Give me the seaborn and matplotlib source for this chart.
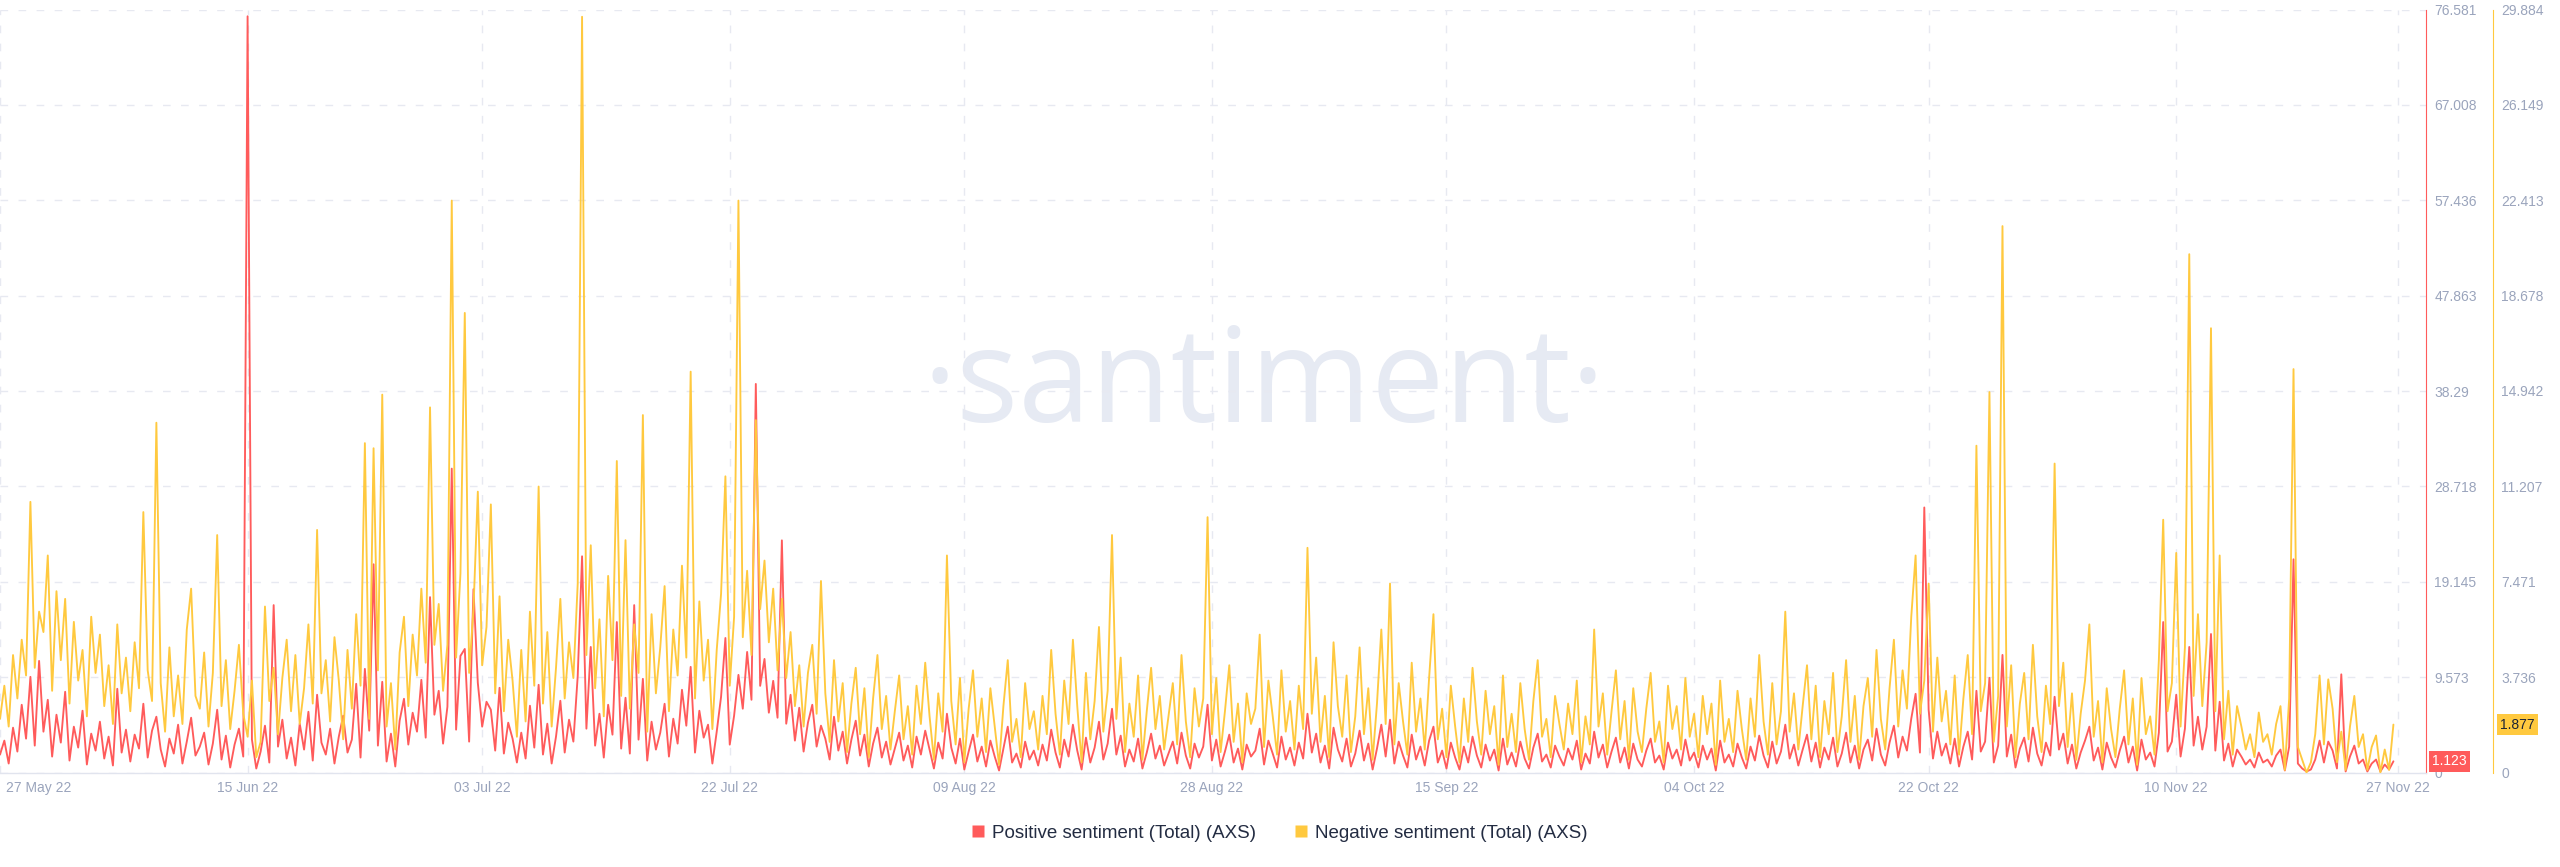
import numpy as np
import pandas as pd
import seaborn as sns
import matplotlib.pyplot as plt
import matplotlib.transforms as mtransforms
from matplotlib.lines import Line2D

# 8-hourly sentiment counts for AXS, starting 27 May 2022
start = '2022-05-27 00:00'

positive = [
    1.8, 3.2, 0.9, 4.5, 2.1, 6.8, 3.4, 9.6, 2.7, 11.2, 4.1, 7.3, 1.6, 5.8, 3.0, 8.1, 1.2, 4.6, 2.5, 6.2, 0.8, 3.9, 2.2, 5.1, 1.4, 3.6, 0.7, 8.4, 2.0, 4.3,
    1.1, 3.8, 2.4, 6.9, 1.5, 4.2, 5.6, 2.3, 0.6, 3.4, 1.9, 4.8, 0.9, 3.1, 5.5, 1.7, 2.6, 4.0, 0.8, 2.9, 6.3, 1.3, 3.7, 0.5, 2.8, 4.4, 1.6, 75.9, 3.3, 0.4,
    2.1, 4.7, 1.0, 16.8, 2.6, 5.3, 1.4, 3.5, 0.7, 4.9, 2.3, 6.1, 1.2, 7.8, 3.0, 1.8, 4.4, 0.9, 3.6, 5.7, 2.0, 3.3, 8.9, 1.5, 10.4, 4.2, 20.9, 2.7, 9.1, 1.1,
    3.9, 0.6, 5.2, 7.4, 2.8, 6.0, 4.1, 9.3, 3.5, 17.6, 5.8, 8.2, 2.9, 6.6, 30.5, 4.3, 11.7, 12.4, 3.1, 18.4, 9.0, 4.6, 7.1, 6.3, 2.2, 8.5, 1.9, 5.0, 3.4, 1.0,
    4.0, 1.4, 6.7, 2.5, 8.8, 1.8, 4.9, 0.9, 3.6, 7.2, 2.0, 5.3, 3.1, 9.7, 21.7, 4.4, 12.6, 2.7, 5.9, 1.5, 6.8, 3.8, 15.1, 2.4, 7.5, 1.9, 16.8, 3.3, 9.4, 1.2,
    5.1, 2.3, 4.0, 6.9, 1.6, 5.4, 2.9, 8.3, 4.7, 10.6, 2.0, 6.2, 3.5, 4.8, 0.9, 4.1, 7.6, 13.5, 2.8, 5.7, 9.8, 6.4, 12.1, 7.3, 39.0, 8.7, 11.4, 6.0, 9.2, 5.5,
    23.3, 4.9, 7.8, 3.2, 6.5, 2.1, 5.0, 6.8, 2.6, 4.7, 3.4, 1.3, 5.6, 2.2, 4.1, 0.9, 3.3, 5.2, 1.7, 3.8, 0.6, 2.9, 4.5, 1.5, 3.1, 0.8, 2.4, 4.0, 1.2, 2.7,
    0.5, 3.6, 1.8, 4.2, 2.3, 0.4, 3.0, 1.4, 5.9, 2.5, 0.9, 3.4, 0.3, 2.1, 3.8, 1.1, 2.6, 0.6, 3.2, 1.6, 0.2, 2.4, 4.6, 1.0, 1.9, 0.5, 3.1, 1.3, 2.2, 0.7,
    2.8, 1.2, 4.3, 2.0, 0.5, 3.3, 1.6, 4.8, 2.2, 0.3, 3.5, 1.0, 2.5, 5.1, 1.3, 2.9, 6.4, 1.8, 3.7, 0.6, 2.3, 1.1, 3.4, 0.4, 2.0, 3.9, 1.4, 2.7, 0.7, 1.9,
    3.1, 0.9, 4.0, 1.7, 0.4, 2.9, 1.5, 2.6, 6.8, 1.2, 3.3, 0.6, 2.1, 3.8, 1.0, 2.4, 0.3, 2.8, 1.6, 2.2, 4.4, 0.8, 3.2, 1.9, 0.5, 3.6, 1.3, 2.5, 0.7, 3.0,
    1.4, 5.9, 2.0, 3.9, 1.0, 2.7, 0.4, 4.5, 2.3, 1.1, 3.4, 0.6, 1.9, 4.2, 1.2, 2.9, 0.3, 2.4, 4.8, 1.6, 5.3, 0.9, 3.1, 1.7, 0.5, 3.8, 1.3, 2.6, 0.7, 3.2,
    4.6, 1.0, 2.2, 0.4, 3.0, 1.5, 0.3, 2.6, 1.0, 3.6, 1.7, 0.5, 2.8, 1.2, 2.3, 0.2, 3.4, 0.8, 2.0, 0.6, 3.1, 1.4, 0.4, 2.5, 3.9, 1.1, 1.8, 0.5, 2.7, 1.6,
    0.7, 2.4, 1.3, 3.2, 0.3, 1.9, 0.9, 4.1, 1.5, 2.8, 0.5, 2.1, 3.5, 1.0, 2.5, 0.4, 2.9, 1.3, 0.6, 2.2, 3.4, 1.0, 1.7, 0.3, 3.0, 1.4, 2.3, 0.7, 3.3, 1.2,
    2.0, 0.5, 2.7, 1.3, 2.4, 0.2, 3.2, 1.0, 1.8, 0.6, 2.9, 1.5, 0.4, 2.6, 1.2, 3.7, 1.7, 0.5, 3.1, 0.9, 2.1, 4.8, 1.4, 2.8, 0.7, 2.3, 3.8, 1.1, 3.0, 0.5,
    2.5, 1.3, 3.5, 0.6, 1.9, 4.0, 1.0, 2.7, 0.4, 2.3, 3.3, 1.2, 4.4, 1.8, 0.7, 3.0, 4.7, 1.5, 3.6, 2.2, 5.4, 7.9, 2.0, 26.6, 6.3, 1.4, 4.1, 1.7, 2.9, 0.9,
    3.4, 0.6, 2.6, 4.1, 1.3, 8.2, 2.1, 3.1, 9.5, 1.0, 2.7, 11.8, 1.6, 3.8, 0.5, 2.4, 3.5, 1.1, 4.5, 1.9, 0.7, 3.0, 1.7, 7.6, 2.3, 3.9, 0.9, 2.8, 0.4, 2.0,
    3.2, 4.6, 1.2, 2.5, 0.3, 3.0, 1.5, 0.5, 2.2, 3.6, 1.0, 2.6, 0.2, 3.3, 1.3, 2.0, 0.6, 4.0, 15.1, 2.1, 3.1, 7.8, 1.6, 4.4, 12.6, 2.7, 5.6, 2.3, 4.6, 13.9,
    2.2, 7.1, 1.2, 2.9, 0.6, 2.3, 1.6, 0.8, 1.3, 0.5, 2.0, 1.0, 1.3, 0.6, 1.7, 2.3, 0.2, 2.6, 21.4, 0.9, 0.4, 0.1, 0.3, 1.3, 3.2, 1.0, 3.1, 2.2, 0.4, 9.85,
    0.1, 1.6, 2.7, 0.9, 1.3, 0.1, 0.9, 1.3, 0.1, 0.8, 0.3, 1.123,
]

negative = [
    2.1, 3.4, 1.8, 4.6, 2.9, 5.2, 3.8, 10.6, 4.1, 6.3, 5.5, 8.5, 3.2, 7.1, 4.4, 6.8, 2.7, 5.9, 3.6, 4.8, 2.2, 6.1, 3.9, 5.4, 2.6, 4.2, 1.9, 5.8, 3.1, 4.5,
    2.4, 5.1, 3.3, 10.2, 4.0, 2.8, 13.7, 3.5, 1.6, 4.9, 2.2, 3.8, 1.9, 5.6, 7.2, 3.0, 2.5, 4.7, 1.8, 3.9, 9.3, 2.6, 4.4, 1.7, 3.2, 5.0, 2.3, 1.4, 3.6, 0.6,
    1.2, 6.5, 2.8, 4.1, 1.5, 3.7, 5.2, 2.4, 4.6, 1.9, 3.3, 5.8, 2.7, 9.5, 3.1, 4.4, 2.0, 5.3, 3.6, 1.3, 4.8, 2.5, 6.2, 3.4, 12.9, 2.1, 12.7, 4.0, 14.8, 1.8,
    3.5, 0.9, 4.7, 6.1, 2.6, 5.4, 3.8, 7.2, 4.3, 14.3, 5.0, 6.6, 3.2, 5.0, 22.4, 4.5, 7.8, 18.0, 3.9, 6.4, 11.0, 4.2, 5.7, 10.5, 3.1, 6.9, 2.4, 5.2, 3.6, 1.4,
    4.8, 2.0, 6.3, 3.4, 11.2, 2.7, 5.5, 1.8, 4.1, 6.8, 2.9, 5.1, 3.7, 7.4, 29.6, 4.6, 8.9, 3.3, 6.0, 2.2, 7.7, 4.4, 12.2, 3.0, 9.1, 2.5, 5.8, 3.9, 14.0, 1.6,
    6.2, 3.1, 4.9, 7.3, 2.4, 5.6, 3.8, 8.1, 4.5, 15.7, 2.9, 6.7, 3.6, 5.2, 1.7, 4.8, 7.0, 11.6, 3.4, 6.1, 22.4, 5.3, 7.9, 4.6, 13.8, 6.4, 8.3, 5.1, 7.2, 4.0,
    6.8, 3.7, 5.5, 2.6, 4.2, 1.8, 3.9, 5.0, 2.3, 7.5, 3.1, 1.2, 4.4, 2.0, 3.5, 0.8, 2.7, 4.1, 1.5, 3.3, 0.6, 2.9, 4.6, 1.7, 3.0, 0.9, 2.4, 3.8, 1.3, 2.6,
    0.7, 3.4, 1.9, 4.3, 2.2, 0.5, 3.1, 1.6, 8.5, 2.8, 1.1, 3.7, 0.4, 2.5, 4.0, 1.4, 2.9, 0.8, 3.3, 1.8, 0.3, 2.6, 4.4, 1.2, 2.1, 0.6, 3.5, 1.7, 2.4, 0.9,
    3.0, 1.5, 4.8, 2.3, 0.7, 3.6, 1.9, 5.2, 2.6, 0.4, 3.9, 1.3, 2.8, 5.7, 1.6, 3.2, 9.3, 2.1, 4.5, 0.8, 2.7, 1.4, 3.8, 0.5, 2.4, 4.1, 1.7, 3.0, 0.9, 2.2,
    3.5, 1.1, 4.6, 2.0, 0.6, 3.3, 1.8, 2.9, 10.0, 1.5, 3.7, 0.8, 2.4, 4.2, 1.2, 2.7, 0.4, 3.1, 1.9, 2.5, 5.4, 1.0, 3.6, 2.2, 0.7, 4.0, 1.6, 2.8, 0.9, 3.4,
    1.7, 8.8, 2.3, 4.5, 1.2, 3.0, 0.6, 5.1, 2.6, 1.4, 3.8, 0.8, 2.2, 4.9, 1.5, 3.3, 0.5, 2.7, 5.6, 1.9, 7.4, 1.1, 3.5, 2.0, 0.7, 4.3, 1.6, 2.9, 0.9, 3.7,
    6.2, 1.3, 2.5, 0.6, 3.4, 1.8, 0.4, 2.9, 1.2, 4.1, 2.0, 0.7, 3.2, 1.5, 2.6, 0.3, 3.8, 1.0, 2.3, 0.8, 3.5, 1.7, 0.5, 2.8, 4.4, 1.4, 2.1, 0.6, 3.0, 1.9,
    0.9, 2.7, 1.5, 3.6, 0.4, 2.2, 1.1, 5.6, 1.8, 3.1, 0.7, 2.4, 4.0, 1.3, 2.8, 0.5, 3.3, 1.6, 0.8, 2.5, 3.9, 1.2, 2.0, 0.4, 3.4, 1.7, 2.6, 0.9, 3.7, 1.4,
    2.3, 0.6, 3.0, 1.5, 2.7, 0.3, 3.6, 1.2, 2.1, 0.8, 3.2, 1.7, 0.5, 2.9, 1.4, 4.6, 2.0, 0.7, 3.5, 1.1, 2.4, 6.3, 1.6, 3.1, 0.9, 2.6, 4.2, 1.3, 3.4, 0.6,
    2.8, 1.5, 3.9, 0.8, 2.2, 4.4, 1.2, 3.0, 0.5, 2.6, 3.7, 1.4, 4.8, 2.1, 0.9, 3.3, 5.2, 1.8, 4.0, 2.5, 6.1, 8.5, 2.3, 3.6, 7.4, 1.6, 4.5, 2.0, 3.2, 1.1,
    3.8, 0.7, 2.9, 4.6, 1.5, 12.8, 2.4, 3.5, 14.9, 1.2, 3.0, 21.4, 1.8, 4.2, 0.6, 2.7, 3.9, 1.3, 5.0, 2.2, 0.8, 3.4, 1.9, 12.1, 2.6, 4.3, 1.0, 3.1, 0.5, 2.3,
    3.6, 5.8, 1.4, 2.8, 0.4, 3.3, 1.7, 0.6, 2.5, 4.0, 1.1, 2.9, 0.3, 3.7, 1.5, 2.2, 0.7, 4.4, 9.9, 2.4, 3.5, 8.6, 1.8, 4.9, 20.3, 3.0, 6.2, 2.6, 5.1, 17.4,
    2.4, 8.5, 1.3, 3.2, 0.7, 2.6, 1.8, 0.9, 1.5, 0.6, 2.35, 1.2, 1.5, 0.7, 1.9, 2.6, 0.1, 2.9, 15.8, 1.0, 0.5, 0.0, 0.4, 1.5, 3.8, 1.1, 3.65, 2.5, 0.4, 1.6,
    0.1, 1.8, 3.0, 1.0, 1.5, 0.1, 1.0, 1.45, 0.0, 0.9, 0.1, 1.877,
]

pos_ticks = [0, 9.573, 19.145, 28.718, 38.29, 47.863, 57.436, 67.008, 76.581]
neg_ticks = [0, 3.736, 7.471, 11.207, 14.942, 18.678, 22.413, 26.149, 29.884]
date_ticks = ['2022-05-27', '2022-06-15', '2022-07-03', '2022-07-22', '2022-08-09', '2022-08-28',
              '2022-09-15', '2022-10-04', '2022-10-22', '2022-11-10', '2022-11-27']
date_labels = ['27 May 22', '15 Jun 22', '03 Jul 22', '22 Jul 22', '09 Aug 22', '28 Aug 22',
               '15 Sep 22', '04 Oct 22', '22 Oct 22', '10 Nov 22', '27 Nov 22']

RED = '#ff5b5b'
YELLOW = '#ffc93f'
TICK = '#9aa4bc'
GRID = '#e7e9f1'

sns.set_theme(style='white')
plt.rcParams['font.family'] = ['Liberation Sans', 'DejaVu Sans']

pos_df = pd.DataFrame({'date': pd.date_range(start, periods=len(positive), freq='8h'), 'value': positive})
neg_df = pd.DataFrame({'date': pd.date_range(start, periods=len(negative), freq='8h'), 'value': negative})

fig = plt.figure(figsize=(25.6, 8.67), dpi=100)
ax = fig.add_axes([0, 94.5 / 867, 2426 / 2560, 763 / 867])
ax2 = ax.twinx()

sns.lineplot(data=pos_df, x='date', y='value', ax=ax, color=RED, lw=1.35, estimator=None)
sns.lineplot(data=neg_df, x='date', y='value', ax=ax2, color=YELLOW, lw=1.35, estimator=None)

ax.set_xlim(pd.Timestamp(start), pd.Timestamp(start) + pd.Timedelta(hours=4468))
ax.set_ylim(0, pos_ticks[-1])
ax2.set_ylim(0, neg_ticks[-1])

# x axis
ax.set_xticks(pd.to_datetime(date_ticks))
ax.set_xticklabels(date_labels)
ax.tick_params(axis='x', length=0, pad=6, labelsize=10, labelcolor=TICK)
first = ax.get_xticklabels()[0]
first.set_horizontalalignment('left')
first.set_transform(first.get_transform() + mtransforms.ScaledTranslation(0.06, 0, fig.dpi_scale_trans))

# red (positive) axis on the right
ax.yaxis.tick_right()
ax.set_yticks(pos_ticks)
ax.set_yticklabels([str(v) for v in pos_ticks])
ax.tick_params(axis='y', length=0, pad=6, labelsize=10, labelcolor=TICK)

# yellow (negative) axis further right
ax2.spines['right'].set_position(('outward', 67 * 0.72))
ax2.set_yticks(neg_ticks)
ax2.set_yticklabels([str(v) for v in neg_ticks])
ax2.tick_params(axis='y', length=0, pad=6, labelsize=10, labelcolor=TICK)

for s in ['top', 'left']:
    ax.spines[s].set_visible(False)
ax.spines['right'].set_color(RED)
ax.spines['right'].set_linewidth(0.8)
ax.spines['bottom'].set_color('#e1e4ee')
ax.spines['bottom'].set_linewidth(1)
for s in ['top', 'left', 'bottom']:
    ax2.spines[s].set_visible(False)
ax2.spines['right'].set_color(YELLOW)
ax2.spines['right'].set_linewidth(0.8)

ax.grid(True, color=GRID, linestyle=(0, (5.5, 7.5)), lw=1.0)
ax.set_axisbelow(True)
ax2.grid(False)
for a in (ax, ax2):
    a.set_xlabel('')
    a.set_ylabel('')

# watermark
ax.text(0.521, 0.4594, '\u00b7santiment\u00b7', transform=ax.transAxes, ha='center', va='baseline',
        fontsize=94, color='#e6eaf3', zorder=0,
        family=['Liberation Sans Narrow', 'Open Sans', 'DejaVu Sans'])

# last value badges
ax.text(1.0025, positive[-1], f'{positive[-1]:.3f}', transform=ax.get_yaxis_transform(),
        ha='left', va='center', fontsize=10, color='white',
        bbox=dict(boxstyle='square,pad=0.25', fc=RED, ec='none'), zorder=5, clip_on=False)
ax2.text(1.0305, negative[-1], f'{negative[-1]:.3f}', transform=ax2.get_yaxis_transform(),
         ha='left', va='center', fontsize=10, color='#1d2435',
         bbox=dict(boxstyle='square,pad=0.25', fc=YELLOW, ec='none'), zorder=5, clip_on=False)

handles = [Line2D([], [], marker='s', linestyle='none', markersize=8.5, markerfacecolor=RED, markeredgecolor='none'),
           Line2D([], [], marker='s', linestyle='none', markersize=8.5, markerfacecolor=YELLOW, markeredgecolor='none')]
fig.legend(handles, ['Positive sentiment (Total) (AXS)', 'Negative sentiment (Total) (AXS)'],
           loc='center', bbox_to_anchor=(0.4996, 0.039), ncol=2, frameon=False,
           handlelength=0.8, handletextpad=0.35, columnspacing=2.0,
           prop={'size': 13.5}, labelcolor='#232c42')

fig.savefig('out.png', dpi=100, facecolor='white')
